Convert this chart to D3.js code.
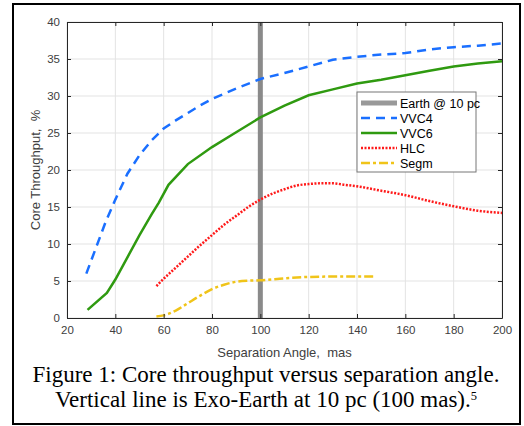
<!DOCTYPE html>
<html>
<head>
<meta charset="utf-8">
<script src="https://cdn.jsdelivr.net/npm/d3@7"></script>
<style>
  body { margin: 0; background: #fff; }
  svg { display: block; }
</style>
</head>
<body>
<div id="chart"></div>
<script>
// separation angle (mas) and core throughput (%)
var vvc4X = [28, 32, 36, 40, 45, 50, 55, 60, 65, 70, 75, 80, 90, 100, 110, 120, 130, 140, 150, 160, 170, 180, 190, 200];
var vvc4Y = [6, 9.5, 13, 16, 19.5, 22, 24, 25.6, 26.7, 27.7, 28.7, 29.6, 31, 32.3, 33.1, 34, 34.9, 35.3, 35.6, 35.8, 36.3, 36.6, 36.8, 37.1];

var vvc6X = [28.5, 36.5, 40, 45, 50, 55, 58, 62, 70, 80, 90, 100, 110, 120, 130, 140, 150, 160, 170, 180, 190, 200];
var vvc6Y = [1.1, 3.4, 5.2, 8.2, 11.2, 14, 15.6, 18, 20.8, 23.1, 25.1, 27.1, 28.7, 30.1, 30.9, 31.7, 32.2, 32.8, 33.4, 34, 34.4, 34.7];

var hlcX = [57, 60, 65, 70, 75, 80, 85, 90, 95, 100, 105, 110, 115, 120, 125, 130, 135, 140, 150, 160, 170, 180, 190, 200];
var hlcY = [4.3, 5.3, 6.8, 8.3, 9.8, 11.2, 12.6, 13.8, 15, 16, 16.8, 17.4, 17.9, 18.1, 18.2, 18.2, 18, 17.8, 17.2, 16.6, 15.8, 15.1, 14.5, 14.2];

var segmX = [57, 60, 65, 70, 75, 80, 85, 90, 95, 100, 110, 120, 130, 140, 147];
var segmY = [0.2, 0.35, 1, 2, 3, 3.9, 4.5, 4.9, 5.05, 5.1, 5.35, 5.55, 5.6, 5.6, 5.6];

var earthX = 100;

var xTicks = [20, 40, 60, 80, 100, 120, 140, 160, 180, 200];
var yTicks = [0, 5, 10, 15, 20, 25, 30, 35, 40];

var legendLabels = ["Earth @ 10 pc", "VVC4", "VVC6", "HLC", "Segm"];

var W = 524, H = 426;
var plot = { left: 67, top: 22, right: 502, bottom: 318 };

var svg = d3.select("#chart").append("svg")
  .attr("width", W).attr("height", H);

svg.append("rect").attr("width", W).attr("height", H).attr("fill", "#fff");

// outer figure frame
svg.append("rect")
  .attr("x", 13).attr("y", 4).attr("width", 507).attr("height", 420)
  .attr("fill", "none").attr("stroke", "#000").attr("stroke-width", 2);

var x = d3.scaleLinear().domain([20, 200]).range([plot.left, plot.right]);
var y = d3.scaleLinear().domain([0, 40]).range([plot.bottom, plot.top]);

// grid
var grid = svg.append("g");
grid.selectAll(".gx").data(xTicks).enter().append("line")
  .attr("x1", d => x(d)).attr("x2", d => x(d))
  .attr("y1", plot.top).attr("y2", plot.bottom)
  .attr("stroke", "#e3e3e3").attr("stroke-width", 1);
grid.selectAll(".gy").data(yTicks).enter().append("line")
  .attr("x1", plot.left).attr("x2", plot.right)
  .attr("y1", d => y(d)).attr("y2", d => y(d))
  .attr("stroke", "#e3e3e3").attr("stroke-width", 1);

// earth marker
svg.append("line")
  .attr("x1", x(earthX)).attr("x2", x(earthX))
  .attr("y1", plot.top).attr("y2", plot.bottom)
  .attr("stroke", "#8a8a8a").attr("stroke-width", 5);

function pts(xs, ys) { return xs.map((v, i) => [v, ys[i]]); }
var line = d3.line().x(d => x(d[0])).y(d => y(d[1]));
var smooth = d3.line().x(d => x(d[0])).y(d => y(d[1])).curve(d3.curveMonotoneX);

var series = [
  { data: pts(vvc4X, vvc4Y), color: "#1a6fff", dash: "9,6", gen: line },
  { data: pts(vvc6X, vvc6Y), color: "#2f9a10", dash: null, gen: line },
  { data: pts(hlcX, hlcY), color: "#ff1a1a", dash: "2,1.5", gen: smooth },
  { data: pts(segmX, segmY), color: "#f0c419", dash: "9,3,3,3", gen: smooth }
];

series.forEach(function (s) {
  svg.append("path")
    .attr("d", s.gen(s.data))
    .attr("fill", "none")
    .attr("stroke", s.color)
    .attr("stroke-width", 2.5)
    .attr("stroke-dasharray", s.dash);
});

// axes (box with inward ticks)
var axisColor = "#262626";
var xAxis = svg.append("g").attr("transform", "translate(0," + plot.bottom + ")")
  .call(d3.axisBottom(x).tickValues(xTicks).tickSizeInner(-4).tickSizeOuter(0).tickPadding(8));
var yAxis = svg.append("g").attr("transform", "translate(" + plot.left + ",0)")
  .call(d3.axisLeft(y).tickValues(yTicks).tickSizeInner(-4).tickSizeOuter(0).tickPadding(7));
var xTop = svg.append("g").attr("transform", "translate(0," + plot.top + ")")
  .call(d3.axisTop(x).tickValues(xTicks).tickSizeInner(-4).tickSizeOuter(0).tickFormat(""));
var yRight = svg.append("g").attr("transform", "translate(" + plot.right + ",0)")
  .call(d3.axisRight(y).tickValues(yTicks).tickSizeInner(-4).tickSizeOuter(0).tickFormat(""));

[xAxis, yAxis, xTop, yRight].forEach(function (g) {
  g.select(".domain").attr("stroke", axisColor);
  g.selectAll(".tick line").attr("stroke", axisColor);
  g.selectAll(".tick text")
    .attr("fill", "#404040")
    .style("font-family", "'Liberation Sans', Arial, sans-serif")
    .style("font-size", "11.5px");
});

// axis labels
svg.append("text")
  .attr("x", (plot.left + plot.right) / 2).attr("y", 357)
  .attr("text-anchor", "middle")
  .attr("fill", "#404040")
  .style("font-family", "'Liberation Sans', Arial, sans-serif")
  .style("font-size", "13px")
  .text("Separation Angle,\u00a0 mas");

svg.append("text")
  .attr("transform", "translate(40," + (plot.top + plot.bottom) / 2 + ") rotate(-90)")
  .attr("text-anchor", "middle")
  .attr("fill", "#404040")
  .style("font-family", "'Liberation Sans', Arial, sans-serif")
  .style("font-size", "13px")
  .text("Core Throughput,\u00a0 %");

// legend
var leg = svg.append("g").attr("transform", "translate(357,92)");
leg.append("rect").attr("width", 119).attr("height", 80)
  .attr("fill", "#fff").attr("stroke", "#777").attr("stroke-width", 1);
var legStyles = [
  { color: "#999", dash: null, width: 5 },
  { color: "#1a6fff", dash: "9,6", width: 2.5 },
  { color: "#2f9a10", dash: null, width: 2.5 },
  { color: "#ff1a1a", dash: "2,1.5", width: 2.5 },
  { color: "#f0c419", dash: "9,3,3,3", width: 2.5 }
];
legendLabels.forEach(function (lab, i) {
  var yy = 11 + i * 15;
  leg.append("line")
    .attr("x1", 4).attr("x2", 40).attr("y1", yy).attr("y2", yy)
    .attr("stroke", legStyles[i].color)
    .attr("stroke-width", legStyles[i].width)
    .attr("stroke-dasharray", legStyles[i].dash);
  leg.append("text")
    .attr("x", 43).attr("y", yy + 4.5)
    .attr("fill", "#000")
    .style("font-family", "'Liberation Sans', Arial, sans-serif")
    .style("font-size", "12.5px")
    .text(lab);
});

// caption
var cap = svg.append("g")
  .style("font-family", "'Liberation Serif', 'Times New Roman', serif")
  .style("font-size", "23px")
  .attr("fill", "#000");
cap.append("text").attr("x", 266).attr("y", 382).attr("text-anchor", "middle")
  .text("Figure 1: Core throughput versus separation angle.");
var t2 = cap.append("text").attr("x", 266).attr("y", 407).attr("text-anchor", "middle");
t2.append("tspan").text("Vertical line is Exo-Earth at 10 pc (100 mas).");
t2.append("tspan").attr("dy", -7.5).style("font-size", "12.5px").text("5");
</script>
</body>
</html>
